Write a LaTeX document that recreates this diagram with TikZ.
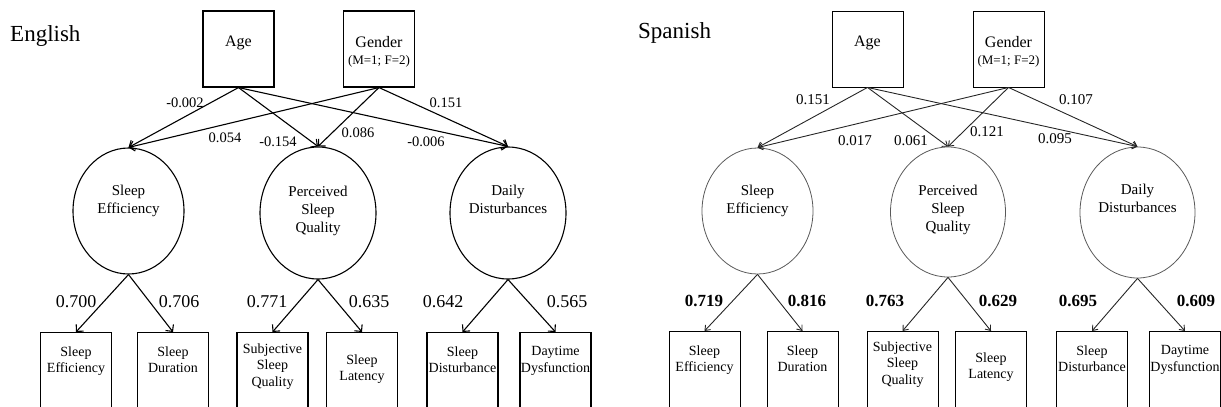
\documentclass[tikz,border=0pt]{standalone}
\usepackage{fontspec}
\setmainfont{Liberation Serif}
\usetikzlibrary{shapes.geometric, arrows.meta, positioning}

\begin{document}
\begin{tikzpicture}[
        x=1pt, y=-1pt,
        cov/.style={draw, line width=1.1pt, minimum width=71pt, minimum height=76pt, inner sep=0pt, align=center, font=\fontsize{16}{17}\selectfont},
        ind/.style={draw, line width=1.1pt, anchor=north, minimum width=71pt, minimum height=76pt, inner sep=0pt, align=center, font=\fontsize{14}{16.5}\selectfont, text depth=22pt},
        latent/.style={draw, ellipse, line width=1.1pt, minimum width=116pt, minimum height=132pt, inner sep=0pt, align=center, font=\fontsize{15}{18}\selectfont, text depth=24pt},
        coef/.style={inner sep=0pt, font=\fontsize{14.5}{16}\selectfont},
        load/.style={inner sep=0pt, font=\fontsize{18}{20}\selectfont},
        lang/.style={inner sep=0pt, anchor=base west, font=\fontsize{23}{26}\selectfont},
        arr/.style={-{Straight Barb[length=5pt, width=10pt]}, line width=1.1pt}
    ]
    \useasboundingbox (0,0) rectangle (1221,407);

    % English
    \node[lang] (eTitle) at (10,41) {English};
    \node[cov, text depth=15pt] (eAge) at (238.5,49) {Age};
    \node[cov, text height=34pt] (eGen) at (379,49) {Gender\\{\fontsize{13}{15}\selectfont (M=1; F=2)}};

    \node[latent, minimum width=111pt, minimum height=126pt, text depth=23pt] (eSE) at (128.5,211) {Sleep\\Efficiency};
    \node[latent, text depth=7pt] (ePSQ) at (318,213) {Perceived\\Sleep\\Quality};
    \node[latent, text depth=27pt] (eDD) at (508,213) {Daily\\Disturbances};

    \node[ind] (eEff) at (76,332) {Sleep\\Efficiency};
    \node[ind] (eDur) at (173,332) {Sleep\\Duration};
    \node[ind, text depth=11pt] (eSub) at (272.5,332) {Subjective\\Sleep\\Quality};
    \node[ind, text depth=6pt] (eLat) at (362,332) {Sleep\\Latency};
    \node[ind] (eDis) at (462.5,332) {Sleep\\Disturbance};
    \node[ind] (eDay) at (555.5,332) {Daytime\\Dysfunction};

    \draw[arr] (eAge.south) -- (eSE.north);
    \draw[arr] (eAge.south) -- (ePSQ.north);
    \draw[arr] (eAge.south) -- (eDD.north);
    \draw[arr] (eGen.south) -- (eSE.north);
    \draw[arr] (eGen.south) -- (ePSQ.north);
    \draw[arr] (eGen.south) -- (eDD.north);
    \draw[arr] (eSE.south) -- (eEff.north);
    \draw[arr] (eSE.south) -- (eDur.north);
    \draw[arr] (ePSQ.south) -- (eSub.north);
    \draw[arr] (ePSQ.south) -- (eLat.north);
    \draw[arr] (eDD.south) -- (eDis.north);
    \draw[arr] (eDD.south) -- (eDay.north);

    \node[coef] (eAgeSE) at (185,103) {-0.002};
    \node[coef] (eGenSE) at (225,138) {0.054};
    \node[coef] (eAgePSQ) at (278,142) {-0.154};
    \node[coef] (eGenPSQ) at (358,133) {0.086};
    \node[coef] (eAgeDD) at (426,142) {-0.006};
    \node[coef] (eGenDD) at (446,103) {0.151};

    \node[load] (eLdEff) at (76,302) {0.700};
    \node[load] (eLdDur) at (179,302) {0.706};
    \node[load] (eLdSub) at (267,302) {0.771};
    \node[load] (eLdLat) at (369,302) {0.635};
    \node[load] (eLdDis) at (443,302) {0.642};
    \node[load] (eLdDay) at (567,302) {0.565};

    % Spanish
    \begin{scope}[
        cov/.append style={line width=0.9pt},
        ind/.append style={line width=0.9pt},
        latent/.append style={line width=0.8pt, draw=black!65},
        load/.append style={font=\fontsize{17}{20}\selectfont\bfseries},
        coef/.append style={font=\fontsize{15}{16}\selectfont},
        arr/.append style={-{Straight Barb[length=4.5pt, width=7pt]}, line width=0.9pt, draw=black!85}
    ]
    \node[lang] (sTitle) at (638,38) {Spanish};
    \node[cov, text depth=15pt] (sAge) at (867.5,49) {Age};
    \node[cov, text height=34pt] (sGen) at (1008.5,49) {Gender\\{\fontsize{13}{15}\selectfont (M=1; F=2)}};

    \node[latent, minimum width=111pt, minimum height=126pt, text depth=23pt] (sSE) at (757.5,211) {Sleep\\Efficiency};
    \node[latent, minimum width=115pt, minimum height=130pt, text depth=7pt] (sPSQ) at (948,212) {Perceived\\Sleep\\Quality};
    \node[latent, minimum width=115pt, minimum height=131pt, text depth=28pt] (sDD) at (1137.5,212.5) {Daily\\Disturbances};

    \node[ind] (sEff) at (704.5,331) {Sleep\\Efficiency};
    \node[ind] (sDur) at (802.5,331) {Sleep\\Duration};
    \node[ind, text depth=13pt] (sSub) at (902.5,331) {Subjective\\Sleep\\Quality};
    \node[ind, text depth=8pt] (sLat) at (991,331) {Sleep\\Latency};
    \node[ind] (sDis) at (1092,331) {Sleep\\Disturbance};
    \node[ind] (sDay) at (1185,331) {Daytime\\Dysfunction};

    \draw[arr] (sAge.south) -- (sSE.north);
    \draw[arr] (sAge.south) -- (sPSQ.north);
    \draw[arr] (sAge.south) -- (sDD.north);
    \draw[arr] (sGen.south) -- (sSE.north);
    \draw[arr] (sGen.south) -- (sPSQ.north);
    \draw[arr] (sGen.south) -- (sDD.north);
    \draw[arr] (sSE.south) -- (sEff.north);
    \draw[arr] (sSE.south) -- (sDur.north);
    \draw[arr] (sPSQ.south) -- (sSub.north);
    \draw[arr] (sPSQ.south) -- (sLat.north);
    \draw[arr] (sDD.south) -- (sDis.north);
    \draw[arr] (sDD.south) -- (sDay.north);

    \node[coef] (sAgeSE) at (813,100) {0.151};
    \node[coef] (sGenSE) at (855,141) {0.017};
    \node[coef] (sAgePSQ) at (911,141) {0.061};
    \node[coef] (sGenPSQ) at (987,132) {0.121};
    \node[coef] (sAgeDD) at (1055,139) {0.095};
    \node[coef] (sGenDD) at (1076,100) {0.107};

    \node[load] (sLdEff) at (704,301) {0.719};
    \node[load] (sLdDur) at (807,301) {0.816};
    \node[load] (sLdSub) at (885,301) {0.763};
    \node[load] (sLdLat) at (998,301) {0.629};
    \node[load] (sLdDis) at (1078,301) {0.695};
    \node[load] (sLdDay) at (1196,301) {0.609};
    \end{scope}
\end{tikzpicture}
\end{document}
